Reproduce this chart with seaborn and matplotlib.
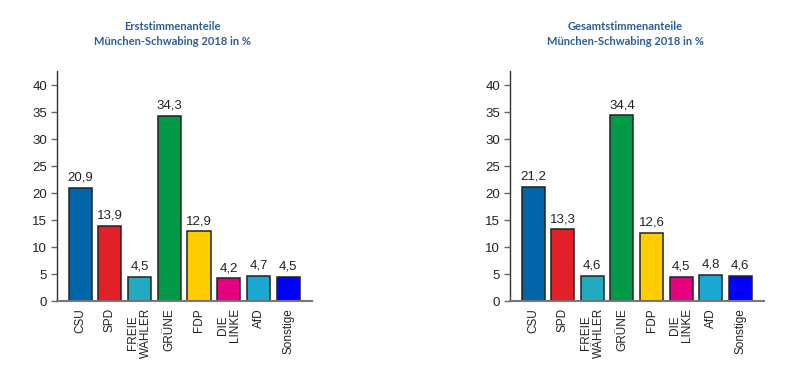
import pandas as pd
import matplotlib
matplotlib.use("Agg")
import matplotlib.pyplot as plt
import seaborn as sns

# Data
parties = ['CSU', 'SPD', 'FREIE\nWÄHLER', 'GRÜNE', 'FDP', 'DIE\nLINKE', 'AfD', 'Sonstige']
erststimmen = [20.9, 13.9, 4.5, 34.3, 12.9, 4.2, 4.7, 4.5]
gesamtstimmen = [21.2, 13.3, 4.6, 34.4, 12.6, 4.5, 4.8, 4.6]
colors = ['#0066a8', '#e2202a', '#22aabe', '#009a48', '#ffcc00', '#e4007f', '#1aa8d2', '#0000ff']
titles = ['Erststimmenanteile\nMünchen-Schwabing 2018 in %',
          'Gesamtstimmenanteile\nMünchen-Schwabing 2018 in %']

sns.set_style("white")
plt.rcParams['font.family'] = ['Liberation Sans', 'DejaVu Sans']

fig = plt.figure(figsize=(7.99, 3.75), dpi=100)
W, H = 799, 375
boxes = [(57, 312), (510, 764)]
title_x = [172, 625]

for i, values in enumerate([erststimmen, gesamtstimmen]):
    x0, x1 = boxes[i]
    ax = fig.add_axes([x0 / W, (H - 301) / H, (x1 - x0) / W, (301 - 71) / H])
    df = pd.DataFrame({'Partei': parties, 'Anteil': values})
    sns.barplot(data=df, x='Partei', y='Anteil', hue='Partei', palette=colors,
                legend=False, width=0.78, edgecolor='#222222', linewidth=1.1,
                saturation=1, ax=ax)
    for c in ax.containers:
        ax.bar_label(c, labels=[f"{v:.1f}".replace('.', ',') for v in c.datavalues],
                     padding=3, fontsize=9.5, color='#222222')
    ax.set_ylim(0, 42.6)
    ax.set_xlim(-0.78, 7.8)
    ax.set_yticks(range(0, 41, 5))
    ax.set_xlabel('')
    ax.set_ylabel('')
    ax.tick_params(axis='y', labelsize=9.5, length=4, width=1, color='#666666',
                   labelcolor='#222222', left=True, pad=3)
    ax.tick_params(axis='x', length=0, pad=5)
    ax.set_xticks(range(len(parties)))
    ax.set_xticklabels(parties, rotation=90, fontsize=8.5, color='#222222',
                       linespacing=1.05)
    for lab in ax.get_xticklabels():
        lab.set_va('top')
        lab.set_ha('center')
    for s in ['top', 'right']:
        ax.spines[s].set_visible(False)
    ax.spines['left'].set_color('#333333')
    ax.spines['left'].set_linewidth(1)
    ax.spines['bottom'].set_color('#777777')
    ax.spines['bottom'].set_linewidth(1.5)
    fig.text(title_x[i] / W, 1 - 34 / H, titles[i], ha='center', va='center',
             fontsize=8, fontweight='bold', color='#2e5c9a', linespacing=1.45,
             family=['Lato', 'DejaVu Sans'])

fig.savefig('out.png', dpi=100)
